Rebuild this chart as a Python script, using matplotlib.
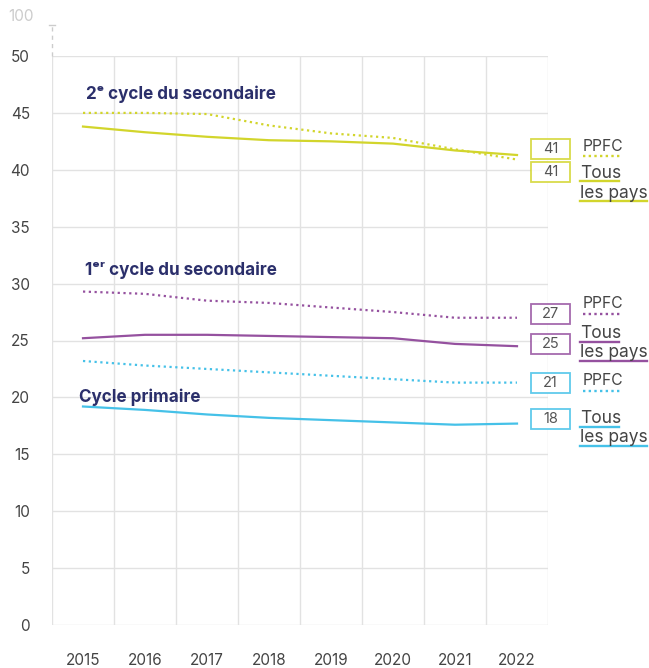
import matplotlib.pyplot as plt
from matplotlib.patches import Rectangle

years = ["2015", "2016", "2017", "2018", "2019", "2020", "2021", "2022"]

sec2_tous = [43.8, 43.3, 42.9, 42.6, 42.5, 42.3, 41.7, 41.3]
sec2_ppfc = [45.0, 45.0, 44.9, 43.9, 43.2, 42.8, 41.8, 40.9]
sec1_tous = [25.2, 25.5, 25.5, 25.4, 25.3, 25.2, 24.7, 24.5]
sec1_ppfc = [29.3, 29.1, 28.5, 28.3, 27.9, 27.5, 27.0, 27.0]
prim_tous = [19.2, 18.9, 18.5, 18.2, 18.0, 17.8, 17.6, 17.7]
prim_ppfc = [23.2, 22.8, 22.5, 22.2, 21.9, 21.6, 21.3, 21.3]

yticks = [0, 5, 10, 15, 20, 25, 30, 35, 40, 45, 50]

c_yel = "#d2d52c"
c_pur = "#95519f"
c_cya = "#45c1e8"
navy = "#2b2f6b"
grid = "#e2e2e2"

plt.rcParams['font.family'] = ['Inter', 'DejaVu Sans']

W, H = 649, 668
fig = plt.figure(figsize=(W / 100, H / 100), dpi=100)
ax = fig.add_axes([52 / W, 1 - 625 / H, 496 / W, 569 / H])


def P(x, y):
    # pixel position (from top-left) -> figure fraction
    return x / W, 1 - y / H


x = list(range(len(years)))
ax.set_xlim(-0.5, len(years) - 0.5)
ax.set_ylim(0, 50)

# grid
for b in range(len(years) + 1):
    ax.axvline(b - 0.5, color=grid, lw=1, zorder=0)
for t in yticks:
    ax.axhline(t, color=grid, lw=1, zorder=0)
for s in ax.spines.values():
    s.set_visible(False)

dot = (0, (1, 1.6))
series = [
    (sec2_ppfc, c_yel, dot), (sec2_tous, c_yel, "-"),
    (sec1_ppfc, c_pur, dot), (sec1_tous, c_pur, "-"),
    (prim_ppfc, c_cya, dot), (prim_tous, c_cya, "-"),
]
for vals, col, ls in series:
    ax.plot(x, vals, color=col, lw=1.6, linestyle=ls, zorder=3)

ax.set_xticks(x)
ax.set_xticklabels(years)
ax.set_yticks(yticks)
ax.tick_params(length=0, labelsize=11, colors="#444444")
ax.tick_params(axis="x", pad=20)
ax.tick_params(axis="y", pad=16)

# broken axis to 100
ax.plot([0, 0], [1.0, 1.055], transform=ax.transAxes, color="#cccccc",
        lw=1, linestyle=(0, (3, 3)), clip_on=False)
ax.plot([-0.006, 0.006], [1.055, 1.055], transform=ax.transAxes,
        color="#cccccc", lw=1, clip_on=False)
ax.text(-0.062, 1.07, "100", transform=ax.transAxes, ha="center",
        va="center", fontsize=11, color="#cccccc")

# group titles
ax.text(0.05, 46.6, "2ᵉ cycle du secondaire", fontsize=12.3,
        fontweight="bold", color=navy, va="center", ha="left")
ax.text(0.03, 31.2, "1ᵉʳ cycle du secondaire", fontsize=12.3,
        fontweight="bold", color=navy, va="center", ha="left")
ax.text(-0.07, 20.0, "Cycle primaire", fontsize=12.3,
        fontweight="bold", color=navy, va="center", ha="left")

# end labels: (value, colour, box centre px, text baselines px)
ppfc_labels = [
    (sec2_ppfc[-1], c_yel, 149, 151, 156),
    (sec1_ppfc[-1], c_pur, 314, 308, 314),
    (prim_ppfc[-1], c_cya, 383, 385, 391),
]
tous_labels = [
    (sec2_tous[-1], c_yel, 172, 178, 181, 198, 201),
    (sec1_tous[-1], c_pur, 344, 338, 342, 357, 361),
    (prim_tous[-1], c_cya, 419, 423, 427, 442, 446),
]


def value_box(val, col, yc):
    x0, y0 = P(531, yc + 10)
    x1, y1 = P(570, yc - 10)
    fig.add_artist(Rectangle((x0, y0), x1 - x0, y1 - y0, transform=fig.transFigure,
                             fc="white", ec=col, lw=1.3, alpha=0.85, zorder=5))
    fig.text(*P(550.5, yc), f"{int(val + 0.5)}", ha="center", va="center",
             fontsize=10.5, color="#555555", zorder=6)


def underline(xa, xb, y, col, ls):
    (fx0, fy), (fx1, _) = P(xa, y), P(xb, y)
    fig.add_artist(plt.Line2D([fx0, fx1], [fy, fy], transform=fig.transFigure,
                              color=col, lw=1.7, linestyle=ls))


for val, col, yc, base, ul in ppfc_labels:
    value_box(val, col, yc)
    fig.text(*P(583, base), "PPFC", ha="left", va="baseline", fontsize=11.3,
             color="#444444")
    underline(583, 620, ul, col, (0, (1, 1.4)))

for val, col, yc, b1, u1, b2, u2 in tous_labels:
    value_box(val, col, yc)
    fig.text(*P(580, b1), "Tous", ha="left", va="baseline", fontsize=12.5,
             color="#444444")
    underline(580, 619, u1, col, "-")
    fig.text(*P(580, b2), "les pays", ha="left", va="baseline", fontsize=12.5,
             color="#444444")
    underline(580, 647, u2, col, "-")

fig.savefig("out.png", dpi=100)
